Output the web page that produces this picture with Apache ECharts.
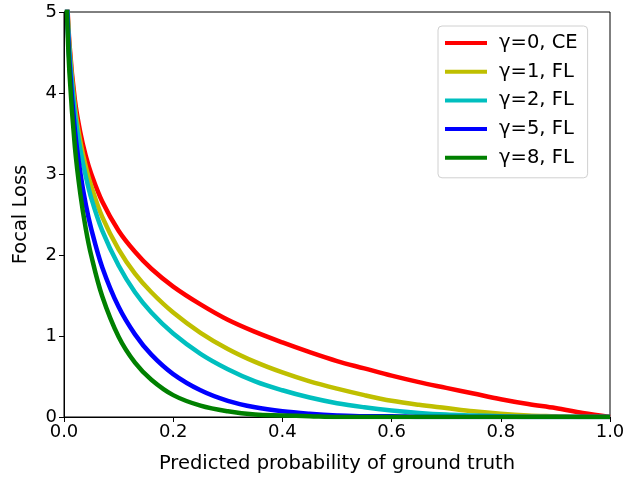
<!DOCTYPE html>
<html>
<head>
<meta charset="utf-8">
<script src="https://cdn.jsdelivr.net/npm/echarts@6/dist/echarts.min.js"></script>
<style>
  html, body { margin: 0; padding: 0; background: #fff; }
  #main { width: 641px; height: 479px; }
</style>
</head>
<body>
<div id="main"></div>
<script>
// predicted probability of ground truth (x)
var probs = [0.005, 0.01, 0.02, 0.03, 0.04, 0.05, 0.07, 0.1, 0.13, 0.16, 0.2, 0.25, 0.3, 0.35,
  0.4, 0.45, 0.5, 0.55, 0.6, 0.65, 0.7, 0.75, 0.8, 0.85, 0.9, 0.95, 1.0];

// loss
var lossG0 = [5.30, 4.61, 3.91, 3.51, 3.22, 3.00, 2.66, 2.30, 2.04, 1.83, 1.61, 1.39, 1.20, 1.05,
  0.92, 0.80, 0.69, 0.60, 0.51, 0.43, 0.36, 0.29, 0.22, 0.16, 0.11, 0.05, 0];
var lossG1 = [5.27, 4.56, 3.83, 3.40, 3.09, 2.85, 2.47, 2.07, 1.77, 1.54, 1.29, 1.04, 0.84, 0.68,
  0.55, 0.44, 0.35, 0.27, 0.20, 0.15, 0.11, 0.07, 0.04, 0.02, 0.01, 0.00, 0];
var lossG2 = [5.25, 4.52, 3.75, 3.30, 2.97, 2.70, 2.30, 1.87, 1.54, 1.29, 1.03, 0.78, 0.59, 0.44,
  0.33, 0.24, 0.17, 0.12, 0.08, 0.05, 0.03, 0.02, 0.01, 0, 0, 0, 0];
var lossG5 = [5.17, 4.38, 3.54, 3.01, 2.62, 2.32, 1.85, 1.36, 1.02, 0.77, 0.53, 0.33, 0.20, 0.12,
  0.07, 0.04, 0.02, 0.01, 0.01, 0, 0, 0, 0, 0, 0, 0, 0];
var lossG8 = [5.09, 4.25, 3.33, 2.75, 2.32, 1.99, 1.49, 0.99, 0.67, 0.46, 0.27, 0.14, 0.07, 0.03,
  0.02, 0.01, 0, 0, 0, 0, 0, 0, 0, 0, 0, 0, 0];

var seriesNames = ['γ=0, CE', 'γ=1, FL', 'γ=2, FL', 'γ=5, FL', 'γ=8, FL'];
var seriesColors = ['#ff0000', '#bfbf00', '#00bfbf', '#0000ff', '#008000'];
var seriesLoss = [lossG0, lossG1, lossG2, lossG5, lossG8];

var font = 'DejaVu Sans';

var series = seriesLoss.map(function (loss, i) {
  return {
    name: seriesNames[i],
    type: 'line',
    data: probs.map(function (p, j) { return [p, loss[j]]; }),
    smooth: 0.35,
    showSymbol: false,
    clip: true,
    lineStyle: { width: 4.5, color: seriesColors[i] },
    itemStyle: { color: seriesColors[i] },
    z: 2 + i
  };
});

var myChart = echarts.init(document.getElementById('main'));
myChart.setOption({
  animation: false,
  backgroundColor: '#fff',
  grid: {
    left: 64, right: 31, top: 12, bottom: 60,
    show: true, borderColor: '#000', borderWidth: 1
  },
  legend: {
    left: 438, top: 26,
    orient: 'vertical',
    data: seriesNames,
    icon: 'rect',
    itemWidth: 42, itemHeight: 4,
    itemGap: 8.7,
    padding: [7, 10, 10, 7],
    borderColor: '#d0d0d0', borderWidth: 1, borderRadius: 4,
    backgroundColor: '#fff',
    textStyle: { fontFamily: font, fontSize: 19.5, color: '#000', lineHeight: 20, padding: [0, 0, 0, 7] }
  },
  xAxis: {
    type: 'value', min: 0, max: 1, interval: 0.2,
    name: 'Predicted probability of ground truth',
    nameLocation: 'middle', nameGap: 37,
    nameTextStyle: { fontFamily: font, fontSize: 19.5, color: '#000' },
    splitLine: { show: false },
    axisLine: { lineStyle: { color: '#000', width: 1 } },
    axisTick: { length: 5, lineStyle: { color: '#000' } },
    axisLabel: {
      fontFamily: font, fontSize: 18, color: '#000', margin: 6,
      formatter: function (v) { return v.toFixed(1); }
    }
  },
  yAxis: {
    type: 'value', min: 0, max: 5, interval: 1,
    name: 'Focal Loss',
    nameLocation: 'middle', nameGap: 33,
    nameTextStyle: { fontFamily: font, fontSize: 19.5, color: '#000' },
    splitLine: { show: false },
    axisLine: { show: true, lineStyle: { color: '#000', width: 1 } },
    axisTick: { show: true, length: 5, lineStyle: { color: '#000' } },
    axisLabel: { fontFamily: font, fontSize: 18, color: '#000', margin: 7 }
  },
  series: series
});
</script>
</body>
</html>
